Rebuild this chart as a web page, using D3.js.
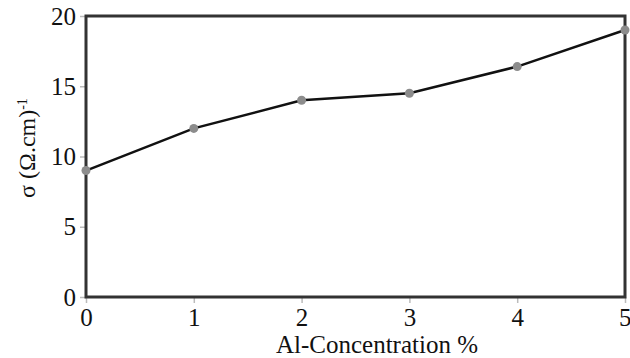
<!DOCTYPE html>
<html><head><meta charset="utf-8">
<script src="https://cdn.jsdelivr.net/npm/d3@7"></script>
<style>html,body{margin:0;padding:0;background:#fff;}svg{display:block;}</style>
</head><body>
<svg id="c" width="630" height="358"></svg>
<script>
const concentration = [0, 1, 2, 3, 4, 5];
const sigma = [9.0, 12.0, 14.0, 14.5, 16.4, 19.0];
const xTicks = [0, 1, 2, 3, 4, 5];
const yTicks = [0, 5, 10, 15, 20];

const svg = d3.select("#c");
const m = {left: 86, right: 5, top: 16, bottom: 61};
const W = 630, H = 358;
const F = "Liberation Serif";
const x = d3.scaleLinear().domain([0, 5]).range([m.left, W - m.right]);
const y = d3.scaleLinear().domain([0, 20]).range([H - m.bottom, m.top]);

const xa = svg.append("g").attr("transform", `translate(0,${H - m.bottom})`)
  .call(d3.axisBottom(x).tickValues(xTicks).tickSize(6).tickPadding(4).tickFormat(d3.format("d")));
const ya = svg.append("g").attr("transform", `translate(${m.left},0)`)
  .call(d3.axisLeft(y).tickValues(yTicks).tickSize(6).tickPadding(4).tickFormat(d3.format("d")));
[xa, ya].forEach(a => {
  a.attr("font-family", F).attr("font-size", 25);
  a.select(".domain").remove();
  a.selectAll(".tick line").attr("stroke", "#bbb").attr("stroke-width", 1.5);
  a.selectAll(".tick text").attr("fill", "#111").style("font-family", F).style("font-size", "25px");
});
xa.selectAll(".tick text").attr("dy", "0.75em");
xa.selectAll(".tick text").filter(d => d === 5).attr("text-anchor", "end").attr("dx", "6");

svg.append("rect").attr("x", x(0)).attr("y", y(20))
  .attr("width", x(5) - x(0)).attr("height", y(0) - y(20))
  .attr("fill", "none").attr("stroke", "#333").attr("stroke-width", 3);

const pts = concentration.map((c, i) => [c, sigma[i]]);
svg.append("path").datum(pts)
  .attr("fill", "none").attr("stroke", "#111").attr("stroke-width", 2.5)
  .attr("d", d3.line().x(d => x(d[0])).y(d => y(d[1])));
svg.selectAll("circle.pt").data(pts).join("circle").attr("class", "pt")
  .attr("cx", d => x(d[0])).attr("cy", d => y(d[1])).attr("r", 4.5).attr("fill", "#8c8c8c");

svg.append("text").attr("x", 377).attr("y", 353).attr("text-anchor", "middle")
  .style("font-family", F).style("font-size", "25px").attr("fill", "#111")
  .text("Al-Concentration %");

const yt = svg.append("text").attr("transform", "translate(35,148) rotate(-90)")
  .attr("text-anchor", "middle").style("font-family", F).style("font-size", "24px").attr("fill", "#111");
yt.append("tspan").text("σ (Ω.cm)");
yt.append("tspan").attr("dy", "-0.55em").style("font-size", "14px").text("-1");
</script>
</body></html>
